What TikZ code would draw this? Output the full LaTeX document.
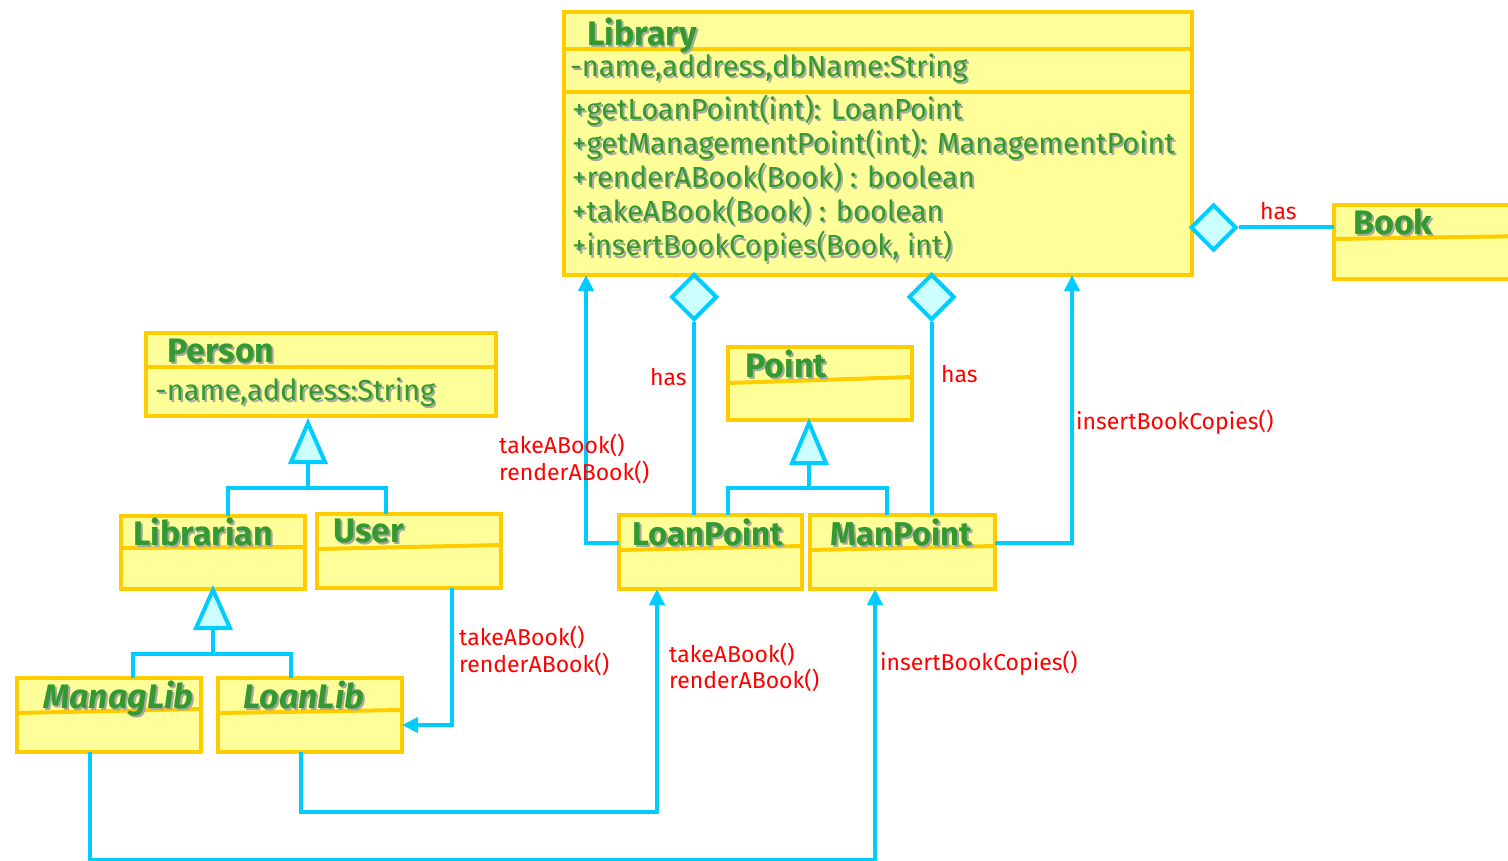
\documentclass[tikz,border=0pt]{standalone}
\usepackage{fontspec}
\setmainfont{Fira Sans}
\usetikzlibrary{arrows.meta,shapes.geometric,calc}

\definecolor{boxfill}{HTML}{FFFF99}
\definecolor{boxline}{HTML}{FFCC00}
\definecolor{txtgreen}{HTML}{339933}
\definecolor{txtshadow}{HTML}{A8A8A0}
\definecolor{connblue}{HTML}{00CCFF}
\definecolor{headfill}{HTML}{CCFFFF}
\definecolor{lblred}{HTML}{FF0000}

% green text with a soft grey drop shadow
\newcommand{\shd}[1]{\rlap{\kern2pt\raisebox{-2pt}{\textcolor{txtshadow}{#1}}}\textcolor{txtgreen}{#1}}

% class box given by its border corners (x1,y1) (x2,y2)
\newcommand{\umlbox}[5]{%
  \node[classbox, minimum width={(#4-#2)*1pt}, minimum height={(#5-#3)*1pt}]
    (#1) at ({(#2+#4)/2},{(#3+#5)/2}) {};}
% compartment line, offsets from the top at the left and right ends
\newcommand{\compline}[3]{%
  \draw[divider] ($(#1.north west)+(0,#2)$) -- ($(#1.north east)+(0,#3)$);}

\begin{document}
\begin{tikzpicture}[x=1pt,y=-1pt,
  classbox/.style={draw=boxline, fill=boxfill, line width=4pt, inner sep=0pt, outer sep=0pt},
  divider/.style={draw=boxline, line width=4pt},
  title/.style={anchor=base west, inner sep=0pt, font=\fontsize{34}{34}\selectfont\bfseries},
  member/.style={anchor=base west, inner sep=0pt, font=\fontsize{29}{34}\selectfont},
  lbl/.style={anchor=base west, inner sep=0pt, text=lblred, font=\fontsize{23}{27}\selectfont},
  conn/.style={draw=connblue, line width=4pt},
  arr/.style={conn, -{Triangle[length=16pt,width=15pt]}},
  agg/.style={diamond, draw=connblue, fill=headfill, line width=4pt,
              minimum width=46pt, minimum height=46pt, inner sep=0pt},
  gen/.style={draw=connblue, fill=headfill, line width=4pt},
]
\useasboundingbox (0,0) rectangle (1508,861);

% ---------- class boxes ----------
\umlbox{lib}{564}{12}{1192}{275}
\umlbox{book}{1334}{205}{1530}{279}
\umlbox{person}{146}{333}{496}{416}
\umlbox{librarian}{121}{516}{305}{589}
\umlbox{user}{317}{514}{501}{588}
\umlbox{managlib}{17}{678}{201}{752}
\umlbox{loanlib}{218}{678}{402}{752}
\umlbox{point}{728}{347}{912}{420}
\umlbox{lp}{619}{515}{802}{589}
\umlbox{mp}{810}{515}{995}{589}

% compartments
\compline{lib}{37}{37}
\compline{lib}{80}{80}
\compline{book}{34}{31}
\compline{person}{34}{34}
\compline{librarian}{32}{31}
\compline{user}{35}{31}
\compline{managlib}{35}{31}
\compline{loanlib}{35}{32}
\compline{point}{36}{30}
\compline{lp}{35}{31}
\compline{mp}{35}{31}

% aggregation: Library has Book, LoanPoint, ManPoint
\node[agg] (d3) at (1213.5,227.5) {};
\draw[conn] (d3.east) -- (d3.east -| book.west);
\node[agg] (d1) at (694,297) {};
\draw[conn] (d1.south) -- (d1.south |- lp.north);
\node[agg] (d2) at (931.5,297) {};
\draw[conn] (d2.south) -- (d2.south |- mp.north);

% calls into Library
\draw[arr] ($(lp.north west)+(0,28)$) -| ($(lib.south west)+(22,0)$);
\draw[arr] ($(mp.north east)+(0,28)$) -| ($(lib.south west)+(508,0)$);

% calls from users and librarians
\draw[arr] ($(user.south west)+(135,0)$) |- ($(loanlib.north east)+(0,47)$);
\draw[arr] ($(loanlib.south west)+(83,0)$) -- ++(0,60) -| ($(lp.south west)+(38,0)$);
\draw[arr] ($(managlib.south west)+(73,0)$) -- ++(0,108) -| ($(mp.south west)+(65,0)$);

% generalization: Person
\coordinate (t1b) at (308,462);
\coordinate (j1) at (308,488);
\draw[conn] (t1b) -- (j1);
\draw[conn] ($(librarian.north west)+(107,0)$) |- (j1) -| ($(user.north west)+(69,0)$);
\draw[gen] (308,423) -- (291,462) -- (325,462) -- cycle;

% generalization: Librarian
\coordinate (t2b) at (213,628);
\coordinate (j2) at (213,654);
\draw[conn] (t2b) -- (j2);
\draw[conn] ($(managlib.north west)+(116,0)$) |- (j2) -| ($(loanlib.north west)+(73,0)$);
\draw[gen] (213,590) -- (196,628) -- (230,628) -- cycle;

% generalization: Point
\coordinate (t3b) at (809,463);
\coordinate (j3) at (809,488);
\draw[conn] (t3b) -- (j3);
\draw[conn] ($(lp.north west)+(109,0)$) |- (j3) -| ($(mp.north west)+(77,0)$);
\draw[gen] (809,423) -- (792,463) -- (826,463) -- cycle;

% ---------- class texts ----------
\node[title] (libT) at (587,46) {\shd{Library}};
\node[member] (libA) at (570,77) {\shd{-name,address,dbName:String}};
\node[member] (libM1) at (572,120) {\shd{+getLoanPoint(int): LoanPoint}};
\node[member] (libM2) at (572,154) {\shd{+getManagementPoint(int): ManagementPoint}};
\node[member] (libM3) at (572,188) {\shd{+renderABook(Book) : boolean}};
\node[member] (libM4) at (572,222) {\shd{+takeABook(Book) : boolean}};
\node[member] (libM5) at (572,256) {\shd{+insertBookCopies(Book, int)}};

\node[title] (bookT) at (1353,235) {\shd{Book}};
\node[title] (personT) at (167,362) {\shd{Person}};
\node[member] (personA) at (155,400) {\shd{-name,address:String}};
\node[title] (librarianT) at (133,545) {\shd{Librarian}};
\node[title] (userT) at (333,542) {\shd{User}};
\node[title, font=\fontsize{34}{34}\selectfont\bfseries\itshape] (managlibT) at (43,708) {\shd{ManagLib}};
\node[title, font=\fontsize{34}{34}\selectfont\bfseries\itshape] (loanlibT) at (243,708) {\shd{LoanLib}};
\node[title] (pointT) at (745,377) {\shd{Point}};
\node[title, font=\fontsize{33}{33}\selectfont\bfseries] (lpT) at (632,545) {\shd{LoanPoint}};
\node[title, font=\fontsize{33}{33}\selectfont\bfseries] (mpT) at (830,545) {\shd{ManPoint}};

% ---------- association labels ----------
\node[lbl] (has3) at (1260,220) {has};
\node[lbl] (has1) at (650,385) {has};
\node[lbl] (has2) at (941,382) {has};
\node[lbl] (l1a) at (499,453) {takeABook()};
\node[lbl] (l1b) at (499,480) {renderABook()};
\node[lbl] (l2) at (1076,429) {insertBookCopies()};
\node[lbl] (l3a) at (459,645) {takeABook()};
\node[lbl] (l3b) at (459,672) {renderABook()};
\node[lbl] (l4a) at (669,662) {takeABook()};
\node[lbl] (l4b) at (669,688) {renderABook()};
\node[lbl] (l5) at (880,670) {insertBookCopies()};
\end{tikzpicture}
\end{document}
